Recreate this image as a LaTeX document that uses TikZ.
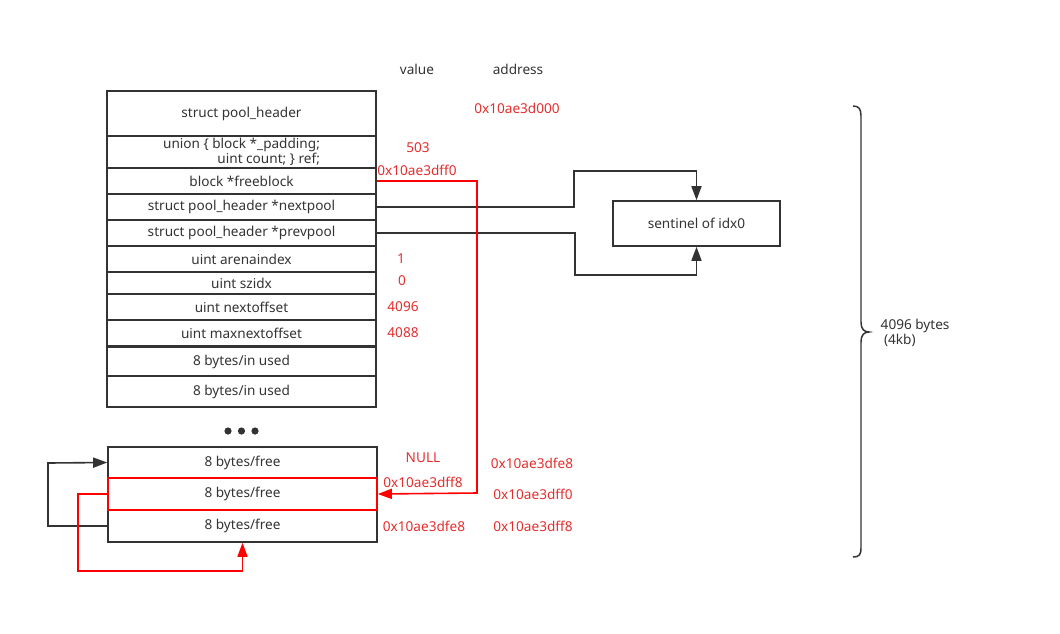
\documentclass[tikz,border=0pt]{standalone}
\usepackage{fontspec}
\setmainfont{Noto Sans}
\usetikzlibrary{arrows.meta}
\definecolor{dk}{RGB}{51,51,51}
\definecolor{rt}{RGB}{228,45,45}
\definecolor{rl}{RGB}{255,0,0}
\begin{document}
\begin{tikzpicture}[x=0.75pt,y=-0.75pt,
  every node/.style={font=\fontsize{10.2pt}{11.4pt}\selectfont, text=dk},
  cell/.style={draw=dk, line width=1.2pt, inner sep=0pt, minimum width=201.75pt},
  redcell/.style={cell, draw=rl},
  val/.style={text=rt},
  conn/.style={draw=dk, line width=1.2pt},
  redconn/.style={draw=rl, line width=1.2pt},
  tip/.style={-{Triangle[length=10.5pt,width=7.5pt]}}]
\useasboundingbox (0,0) rectangle (1060,633);
% header block
\node[cell, minimum height=33.75pt] (r1) at (241.5,113.5) {struct pool\_header};
\node[cell, minimum height=24pt, align=right] (r2) at (241.5,152) {union \{ block *\_padding;\\uint count; \} ref;};
\node[cell, minimum height=19.5pt] (r3) at (241.5,181) {block *freeblock};
\node[cell, minimum height=19.5pt] (r4) at (241.5,207) {struct pool\_header *nextpool};
\node[cell, minimum height=19.5pt] (r5) at (241.5,233) {struct pool\_header *prevpool};
\node[cell, minimum height=19.5pt] (r6) at (241.5,259) {uint arenaindex};
\node[cell, minimum height=16.5pt] (r7) at (241.5,283) {uint szidx};
\node[cell, minimum height=19.5pt] (r8) at (241.5,307) {uint nextoffset};
\node[cell, minimum height=19.5pt] (r9) at (241.5,333) {uint maxnextoffset};
\node[cell, minimum height=21.75pt] (r10) at (241.5,361.5) {8 bytes/in used};
\node[cell, minimum height=23.25pt] (r11) at (241.5,391.5) {8 bytes/in used};
% dots
\fill[dk] (228,431) circle (3.6) (241.5,431) circle (3.6) (255,431) circle (3.6);
% free blocks
\node[cell, minimum height=23.25pt] (f1) at (242.5,462.5) {8 bytes/free};
\node[cell, minimum height=24pt] (f3) at (242.5,526) {8 bytes/free};
\node[redcell, minimum height=24pt] (f2) at (242.5,494) {8 bytes/free};
% sentinel
\node[cell, minimum width=125.25pt, minimum height=33.75pt] (s) at (696.5,223.5) {sentinel of idx0};
% headers
\node (hv) at (417,69) {value};
\node (ha) at (518,69) {address};
% values
\node[val] (a0) at (517,108) {0x10ae3d000};
\node[val] (v1) at (418,148) {503};
\node[val] (v2) at (417,170) {0x10ae3dff0};
\node[val] (v3) at (401,259) {1};
\node[val] (v4) at (402,281) {0};
\node[val] (v5) at (403,307) {4096};
\node[val] (v6) at (403,333) {4088};
\node[val] (v7) at (423,458) {NULL};
\node[val] (a1) at (532,463) {0x10ae3dfe8};
\node[val] (v8) at (423,482) {0x10ae3dff8};
\node[val] (a2) at (533,494) {0x10ae3dff0};
\node[val] (v9) at (424,526) {0x10ae3dfe8};
\node[val] (a3) at (533,526) {0x10ae3dff8};
% connectors
\draw[conn, tip] (r4.east) -| (574,171) -| (s.north);
\draw[conn, tip] (r5.east) -| (575,275) -| (s.south);
\draw[conn, tip] (f3.west) -| (48,463) -- (f1.west);
\draw[redconn, tip] (r3.east) -| (477,493) -- (f2.east);
\draw[redconn, tip] (f2.west) -| (78,571) -| (f3.south);
% brace
\draw[conn, line width=1.1pt] (853,106) .. controls (859,106) and (861,109) .. (861,116) -- (861,322)
  .. controls (861,329) and (864,332) .. (869,332)
  .. controls (864,332) and (861,335) .. (861,342) -- (861,548)
  .. controls (861,555) and (859,557) .. (853,557);
\node[anchor=west, align=left] (bl) at (876,333) {4096 bytes\\\hspace{2.5pt}(4kb)};
\end{tikzpicture}
\end{document}
